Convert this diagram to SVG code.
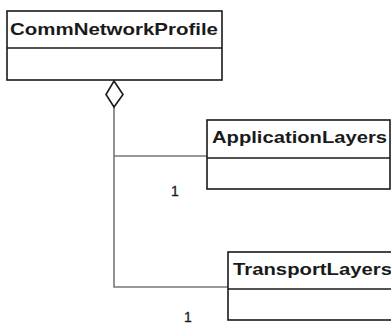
<svg xmlns="http://www.w3.org/2000/svg" width="391" height="324" viewBox="0 0 391 324">
<style>
.box{fill:#fff;stroke:#1a1a1a;stroke-width:1.6}
.div{stroke:#1a1a1a;stroke-width:1.6}
.name{font-family:"Liberation Sans",Arial,sans-serif;font-weight:bold;font-size:17px;fill:#1a1a1a}
.mult{font-family:"Liberation Sans",Arial,sans-serif;font-size:14px;fill:#1a1a1a;stroke:#1a1a1a;stroke-width:0.3}
.conn{fill:none;stroke:#777;stroke-width:1.6}
</style>
<rect width="391" height="324" fill="#fff"/>
<g id="connectors">
<polyline class="conn" points="114,107 114,287 228,287"/>
<line class="conn" x1="114" y1="156" x2="207" y2="156"/>
<polygon points="114,81 123,94.5 114,107 106,94.5" fill="#fff" stroke="#1a1a1a" stroke-width="1.6"/>
<text class="mult" x="171" y="196">1</text>
<text class="mult" x="184" y="322">1</text>
</g>
<g id="CommNetworkProfile">
<rect class="box" x="7" y="11" width="215" height="69"/>
<line class="div" x1="7" y1="48" x2="222" y2="48"/>
<text class="name" x="10" y="35" textLength="208" lengthAdjust="spacingAndGlyphs">CommNetworkProfile</text>
</g>
<g id="ApplicationLayers">
<rect class="box" x="207" y="120" width="183" height="69"/>
<line class="div" x1="207" y1="158" x2="390" y2="158"/>
<text class="name" x="212" y="143" textLength="175" lengthAdjust="spacingAndGlyphs">ApplicationLayers</text>
</g>
<g id="TransportLayers">
<rect class="box" x="228" y="252" width="180" height="68"/>
<line class="div" x1="228" y1="289" x2="408" y2="289"/>
<text class="name" x="233" y="275" textLength="159" lengthAdjust="spacingAndGlyphs">TransportLayers</text>
</g>
</svg>
